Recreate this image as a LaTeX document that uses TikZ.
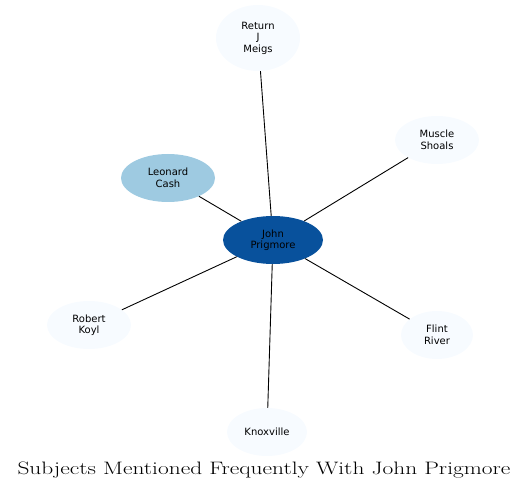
\documentclass[tikz,border=0pt]{standalone}
\usepackage{fontspec}
\newfontfamily\nodefont{DejaVu Sans}
\newfontfamily\titlefont[FakeStretch=1.3]{Latin Modern Roman}
\usetikzlibrary{shapes.geometric}
\definecolor{palefill}{HTML}{F7FBFF}
\definecolor{midfill}{HTML}{9ECAE1}
\definecolor{darkfill}{HTML}{08519C}
\tikzset{
  subj/.style={ellipse,fill=palefill,inner sep=0pt,minimum height=48pt,
    align=center,font=\nodefont\fontsize{10}{11.5}\selectfont},
  link/.style={black,line width=0.9pt}
}
\begin{document}
\begin{tikzpicture}[x=1pt,y=-1pt]
  \useasboundingbox (0,0) rectangle (528,492);
  \node[subj,minimum width=100pt,fill=darkfill] (prig) at (273,240) {John\\Prigmore};
  \node[subj,minimum width=84pt,minimum height=66pt] (meigs) at (258,38) {Return\\J\\Meigs};
  \node[subj,minimum width=84pt] (shoals) at (437,140) {Muscle\\Shoals};
  \node[subj,minimum width=94pt,fill=midfill] (cash) at (168,178) {Leonard\\Cash};
  \node[subj,minimum width=84pt] (koyl) at (89,325) {Robert\\Koyl};
  \node[subj,minimum width=72pt] (flint) at (437,335) {Flint\\River};
  \node[subj,minimum width=80pt] (knox) at (267,432) {Knoxville};
  \foreach \n in {meigs,shoals,cash,koyl,flint,knox}
    \draw[link] (prig) -- (\n);
  \node[font=\titlefont\fontsize{18}{21}\selectfont] (title) at (264,470) {Subjects Mentioned Frequently With John Prigmore};
\end{tikzpicture}
\end{document}
